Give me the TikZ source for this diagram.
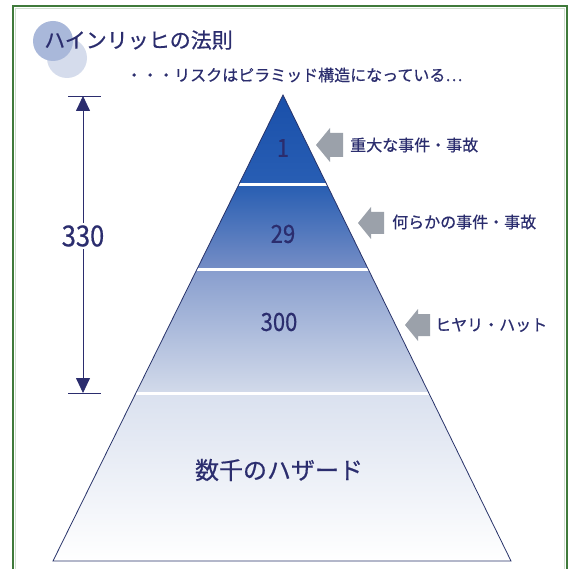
\documentclass[tikz,border=0pt]{standalone}
\usepackage{fontspec}
\newfontfamily\jp[FakeBold=0.6]{Noto Sans CJK JP}
\usetikzlibrary{arrows.meta}
\definecolor{navy}{HTML}{2B2D6E}
\definecolor{frame}{HTML}{3F7A3A}
\definecolor{arrgray}{HTML}{9BA1AA}
\definecolor{edge}{HTML}{28336A}
\tikzset{
  lbl/.style={font=\jp\fontsize{16}{18}\selectfont, text=navy, inner sep=0pt, anchor=west},
  num/.style={font=\jp\fontsize{25}{27}\selectfont, text=navy, inner sep=0pt, xscale=0.88},
  grayarrow/.style={fill=arrgray, draw=none},
  sep/.style={draw=white, line width=3pt},
}
\begin{document}
\begin{tikzpicture}[x=1pt,y=-1pt]
\useasboundingbox (0,0) rectangle (570,569);
\fill[white] (0,0) rectangle (570,569);
% frame
\draw[frame, line width=1.5pt] (13,6) -- (567,6) -- (567,580) -- (13,580) -- cycle;
\draw[frame!25, line width=1pt] (15.5,8.5) -- (564.5,8.5) -- (564.5,580) -- (15.5,580) -- cycle;
% title circles
\fill[fill={rgb,255:red,213;green,220;blue,236}] (67,58) circle (20);
\fill[fill={rgb,255:red,169;green,184;blue,218}] (53,41) circle (20);
\node[font=\jp\fontsize{21}{23}\selectfont, text=navy, inner sep=0pt, anchor=west] (title) at (44,40) {ハインリッヒの法則};
\node[lbl] (sub) at (126,75) {・・・リスクはピラミッド構造になっている…};
% pyramid
\coordinate (apex) at (283,95);
\coordinate (bl) at (53,561);
\coordinate (br) at (511,561);
\begin{scope}
  \clip (apex) -- (br) -- (bl) -- cycle;
  \shade[top color={rgb,255:red,26;green,80;blue,170}, bottom color={rgb,255:red,40;green,94;blue,180}] (40,95) rectangle (530,185);
  \shade[top color={rgb,255:red,40;green,94;blue,178}, bottom color={rgb,255:red,118;green,142;blue,198}] (40,185) rectangle (530,270);
  \shade[top color={rgb,255:red,136;green,158;blue,206}, bottom color={rgb,255:red,210;green,218;blue,234}] (40,270) rectangle (530,393);
  \shade[top color={rgb,255:red,218;green,225;blue,239}, bottom color=white] (40,393) rectangle (530,561);
  \draw[sep] (40,185) -- (530,185);
  \draw[sep] (40,270) -- (530,270);
  \draw[sep] (40,393) -- (530,393);
\end{scope}
\draw[edge, line width=0.8pt, line join=miter] (apex) -- (br) -- (bl) -- cycle;
% band labels
\node[num] (n1) at (283,148) {1};
\node[num] (n29) at (283,234) {29};
\node[num] (n300) at (279,322) {300};
\node[font=\jp\fontsize{24}{26}\selectfont, text=navy, inner sep=0pt] (haz) at (279,470) {数千のハザード};
% dimension
\coordinate (dtop) at (83,96);
\coordinate (dbot) at (83,393);
\draw[navy, line width=0.6pt] (68,96) -- (101,96);
\draw[navy, line width=0.6pt] (68,393) -- (101,393);
\draw[navy, line width=0.8pt, {Triangle[length=15pt,width=14pt]}-{Triangle[length=15pt,width=14pt]}] (dtop) -- (dbot);
\node[num, fill=white, inner sep=2pt, font=\jp\fontsize{29}{31}\selectfont] (d330) at (83,236) {330};
% gray arrows
\fill[grayarrow] (316,145) -- ++(14,-17) -- ++(0,5) -- ++(13,0) -- ++(0,24) -- ++(-13,0) -- ++(0,5) -- cycle;
\fill[grayarrow] (358,223) -- ++(13,-16) -- ++(0,5) -- ++(13,0) -- ++(0,22) -- ++(-13,0) -- ++(0,5) -- cycle;
\fill[grayarrow] (405,325) -- ++(13,-16) -- ++(0,5) -- ++(12,0) -- ++(0,22) -- ++(-12,0) -- ++(0,5) -- cycle;
% right labels
\node[lbl] (l1) at (350,145) {重大な事件・事故};
\node[lbl] (l2) at (392,222) {何らかの事件・事故};
\node[lbl] (l3) at (435,325) {ヒヤリ・ハット};
\end{tikzpicture}
\end{document}
